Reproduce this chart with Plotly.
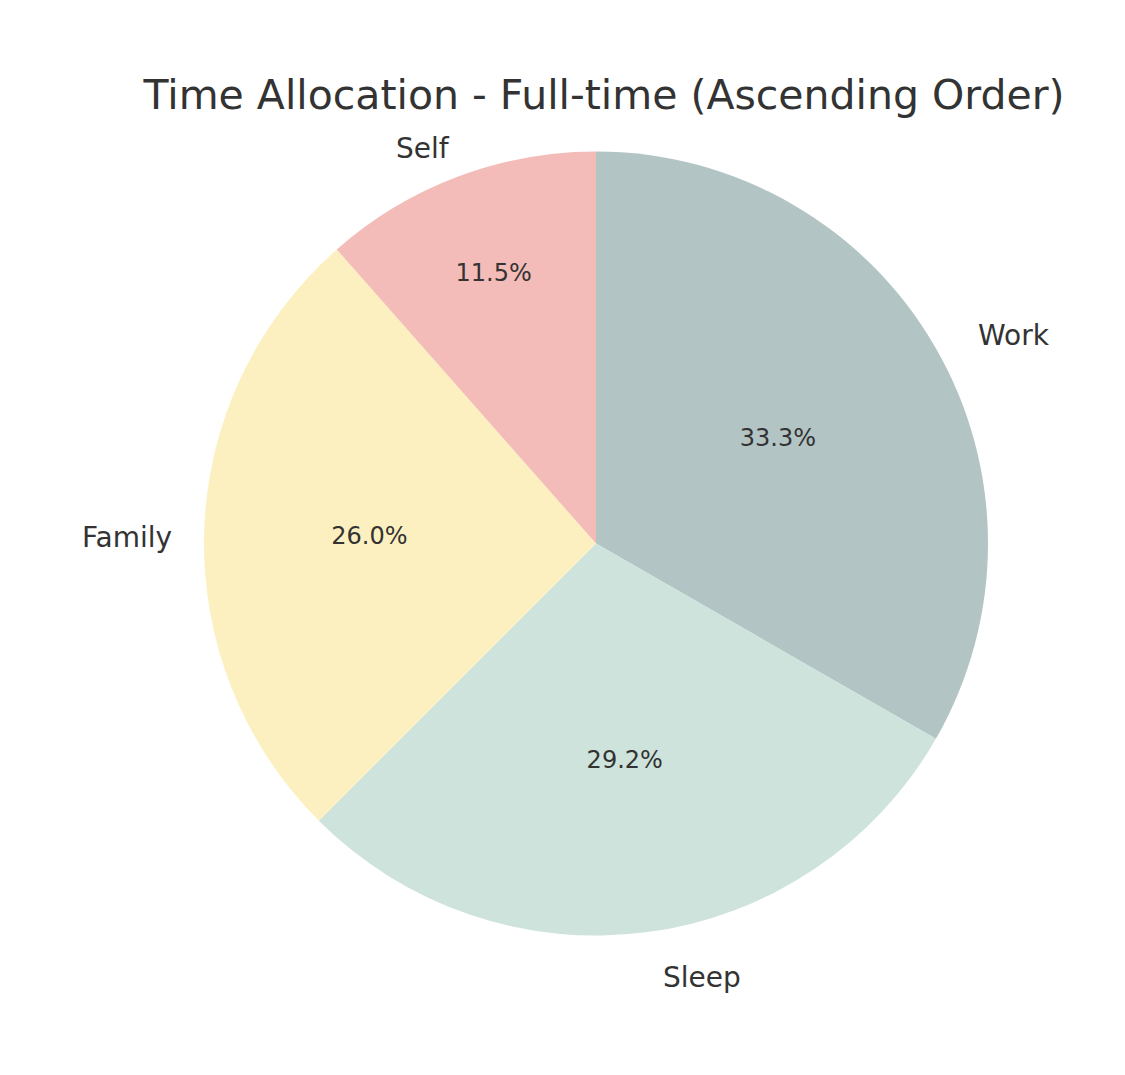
import numpy as np
import plotly.graph_objects as go

labels = ["Work", "Sleep", "Family", "Self"]
values = [33.3, 29.2, 26.0, 11.5]
colors = ["#b3c4c4", "#cde3dc", "#fdf0c0", "#f3bcb8"]

W, H = 1125, 1075
ml, mr, mt, mb = 196, 145, 143, 147
pw, ph = W - ml - mr, H - mt - mb
cx, cy, r = 596, 543, 391

fig = go.Figure(go.Pie(
    labels=labels, values=values, sort=False, direction="clockwise", rotation=0,
    marker=dict(colors=colors), textinfo="percent", texttemplate="%{percent:.1%}",
    textposition="inside", insidetextorientation="horizontal",
    textfont=dict(size=24, color="#333333"), showlegend=False, hoverinfo="label+percent",
))

# outside category labels at 1.1 x radius, mid-angle of each slice
fr = np.array(values) / sum(values)
mid = 90 - 360 * (np.cumsum(fr) - fr / 2)
for lab, a in zip(labels, np.radians(mid)):
    px = cx + 1.1 * r * np.cos(a)
    py = cy - 1.1 * r * np.sin(a)
    xa = "left" if np.cos(a) > 0.05 else ("right" if np.cos(a) < -0.05 else "center")
    fig.add_annotation(x=(px - ml) / pw, y=1 - (py - mt) / ph, xref="paper", yref="paper",
                       text=lab, showarrow=False, xanchor=xa, yanchor="middle",
                       font=dict(size=28, color="#333333"))

fig.update_layout(
    title=dict(text="Time Allocation - Full-time (Ascending Order)", x=0.53, xref="paper",
               y=1 - 87 / H, yanchor="middle", xanchor="center",
               font=dict(size=41, color="#333333")),
    font=dict(family="DejaVu Sans"),
    width=W, height=H, margin=dict(l=ml, r=mr, t=mt, b=mb),
    paper_bgcolor="white",
)
fig.layout.title.x = (596 - ml) / pw
fig.write_html("out.html")
